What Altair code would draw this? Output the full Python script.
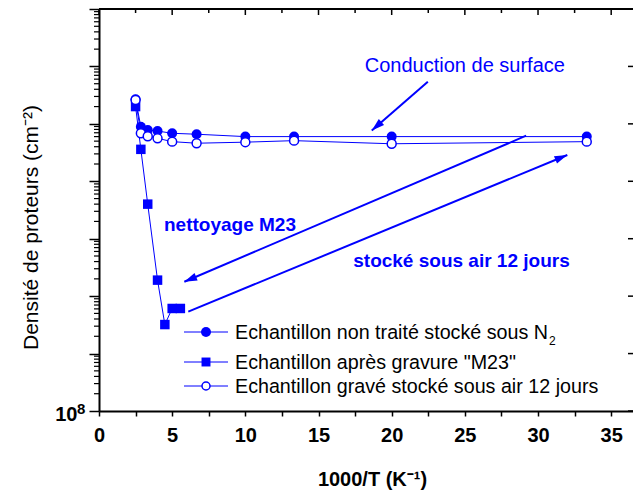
import altair as alt
import pandas as pd

# ---------------- data ----------------
inv_T = [2.5, 2.86, 3.33, 4.0, 5.0, 6.67, 10.0, 13.33, 20.0, 33.33]
n2_density = [2.67e13, 8.9e12, 7.8e12, 7.5e12, 6.85e12, 6.6e12, 6.0e12, 6.0e12, 6.0e12, 6.0e12]
air_density = [2.6e13, 6.85e12, 6.1e12, 5.6e12, 4.9e12, 4.6e12, 4.8e12, 5.1e12, 4.5e12, 4.9e12]
m23_inv_T = [2.5, 2.86, 3.33, 4.0, 4.5, 5.0, 5.56]
m23_density = [2.0e13, 3.6e12, 4.0e11, 1.9e10, 3.2e9, 6.1e9, 6.1e9]

legend_labels = [
    "Echantillon non traité stocké sous N",
    'Echantillon après gravure "M23"',
    "Echantillon gravé stocké sous air 12 jours",
]

x_major = [0, 5, 10, 15, 20, 25, 30, 35]
x_minor = [2.5, 7.5, 12.5, 17.5, 22.5, 27.5, 32.5]
y_major = [1e8, 1e9, 1e10, 1e11, 1e12, 1e13, 1e14, 1e15]
y_minor = [k * 10.0 ** e for e in range(8, 15) for k in range(2, 10)]

ann_text_regular = ["Conduction de surface"]
ann_x_regular = [25.0]
ann_y_regular = [7.9e13]
ann_text_bold = ["nettoyage M23", "stocké sous air 12 jours"]
ann_x_bold = [8.95, 24.77]
ann_y_bold = [1.38e11, 3.26e10]

arrow_x0 = [22.47, 29.19, 6.10]
arrow_y0 = [5.42e13, 6.22e12, 5.36e9]
arrow_x1 = [18.64, 5.83, 32.0]
arrow_y1 = [7.66e12, 1.78e10, 2.87e12]
arrow_angle = [228.9, 246.9, 67.5]

# ---------------- styling ----------------
BLUE = "#0000ff"
FONT = "Liberation Sans"
W, H = 534, 402

xs = alt.Scale(domain=[0, 36.49], nice=False, zero=False)
ys = alt.Scale(type="log", domain=[1e8, 1e15], nice=False)

df_n2 = pd.DataFrame({"x": inv_T, "y": n2_density})
df_air = pd.DataFrame({"x": inv_T, "y": air_density})
df_m23 = pd.DataFrame({"x": m23_inv_T, "y": m23_density})

x_axis = alt.Axis(
    values=sorted(x_major + x_minor),
    labelExpr="datum.value % 5 == 0 ? datum.label : ''",
    labelFont=FONT, labelFontSize=20, labelFontWeight="bold", labelColor="black",
    labelBaseline="alphabetic", labelPadding=25, labelFlush=False, labelOverlap=False,
    tickSize=5, tickWidth=1.5, tickColor="black",
    domainColor="black", domainWidth=2, grid=False,
    title="1000/T (K⁻¹)", titleFont=FONT, titleFontSize=20, titleFontWeight="bold",
    titleColor="black", titleX=273, titleY=74, titleBaseline="alphabetic", titleAlign="center",
)
y_axis = alt.Axis(
    values=y_major,
    labelExpr="datum.value == 100000000 ? '10' : ''",
    labelFont=FONT, labelFontSize=20, labelFontWeight="bold", labelColor="black",
    labelBaseline="alphabetic", labelOffset=9, labelPadding=12, labelFlush=False,
    labelOverlap=False,
    tickSize=10, tickWidth=1.5, tickColor="black",
    domainColor="black", domainWidth=2, grid=False,
    title="Densité de proteurs (cm⁻²)", titleFont=FONT, titleFontSize=21,
    titleFontWeight="normal", titleColor="black", titleAngle=270,
    titleX=-62, titleY=218, titleBaseline="alphabetic", titleAlign="center",
)


def X(field="x"):
    return alt.X(f"{field}:Q", scale=xs, axis=x_axis)


def Y(field="y"):
    return alt.Y(f"{field}:Q", scale=ys, axis=y_axis)


# ---------------- series ----------------
line_m23 = alt.Chart(df_m23).mark_line(color=BLUE, strokeWidth=1).encode(x=X(), y=Y())
pts_m23 = alt.Chart(df_m23).mark_point(shape="square", filled=True, size=90,
                                        color=BLUE, opacity=1).encode(x=X(), y=Y())
line_n2 = alt.Chart(df_n2).mark_line(color=BLUE, strokeWidth=1).encode(x=X(), y=Y())
pts_n2 = alt.Chart(df_n2).mark_point(shape="circle", filled=True, size=100,
                                      color=BLUE, opacity=1).encode(x=X(), y=Y())
line_air = alt.Chart(df_air).mark_line(color=BLUE, strokeWidth=1).encode(x=X(), y=Y())
pts_air = alt.Chart(df_air).mark_point(shape="circle", filled=True, size=80, fill="white",
                                        stroke=BLUE, strokeWidth=1.5, opacity=1).encode(x=X(), y=Y())

# ---------------- extra ticks / frame ----------------
dummy = pd.DataFrame({"a": [0]})
left_minor = alt.Chart(pd.DataFrame({"v": y_minor})).mark_rule(
    color="black", strokeWidth=1.2).encode(x=alt.value(-5), x2=alt.value(0), y=Y("v"))
top_major = alt.Chart(pd.DataFrame({"v": x_major})).mark_rule(
    color="black", strokeWidth=1.5).encode(x=X("v"), y=alt.value(0), y2=alt.value(6))
top_minor = alt.Chart(pd.DataFrame({"v": x_minor})).mark_rule(
    color="black", strokeWidth=1.5).encode(x=X("v"), y=alt.value(0), y2=alt.value(4))
right_major = alt.Chart(pd.DataFrame({"v": y_major})).mark_rule(
    color="black", strokeWidth=1.5).encode(x=alt.value(W - 5), x2=alt.value(W), y=Y("v"))
top_frame = alt.Chart(dummy).mark_rule(color="black", strokeWidth=2).encode(
    x=alt.value(0), x2=alt.value(W), y=alt.value(0))
# exponent of the "10^8" tick label
exp_label = alt.Chart(dummy).mark_text(
    font=FONT, fontSize=15, fontWeight="bold", color="black", align="left",
    baseline="alphabetic").encode(x=alt.value(-22), y=alt.value(H + 2.5), text=alt.value("8"))

# ---------------- annotations ----------------
df_arrows = pd.DataFrame({"x0": arrow_x0, "y0": arrow_y0, "x1": arrow_x1,
                          "y1": arrow_y1, "ang": arrow_angle})
arrow_lines = alt.Chart(df_arrows).mark_rule(color=BLUE, strokeWidth=2).encode(
    x=X("x0"), y=Y("y0"), x2="x1:Q", y2="y1:Q")
arrow_heads = alt.Chart(df_arrows).mark_point(
    shape="M0,0L-0.5,1.6L0.5,1.6Z", filled=True, size=256, color=BLUE, opacity=1
).encode(x=X("x1"), y=Y("y1"), angle=alt.Angle("ang:Q", scale=None))

txt_reg = alt.Chart(pd.DataFrame({"x": ann_x_regular, "y": ann_y_regular, "t": ann_text_regular})
                    ).mark_text(font=FONT, fontSize=20, color=BLUE, align="center",
                                baseline="alphabetic").encode(x=X(), y=Y(), text="t:N")
txt_bold = alt.Chart(pd.DataFrame({"x": ann_x_bold, "y": ann_y_bold, "t": ann_text_bold})
                     ).mark_text(font=FONT, fontSize=19, fontWeight="bold", color=BLUE,
                                 align="center", baseline="alphabetic").encode(x=X(), y=Y(), text="t:N")

# ---------------- legend (drawn by hand) ----------------
LEG_Y = [323, 353, 377]
legend_layers = []
for i, lab in enumerate(legend_labels):
    yy = LEG_Y[i]
    legend_layers.append(alt.Chart(dummy).mark_rule(color=BLUE, strokeWidth=1).encode(
        x=alt.value(85), x2=alt.value(129), y=alt.value(yy)))
    if i == 0:
        m = alt.Chart(dummy).mark_point(shape="circle", filled=True, size=100, color=BLUE, opacity=1)
    elif i == 1:
        m = alt.Chart(dummy).mark_point(shape="square", filled=True, size=80, color=BLUE, opacity=1)
    else:
        m = alt.Chart(dummy).mark_point(shape="circle", filled=True, size=64, fill="white",
                                        stroke=BLUE, strokeWidth=1.5, opacity=1)
    legend_layers.append(m.encode(x=alt.value(107), y=alt.value(yy)))
    legend_layers.append(alt.Chart(dummy).mark_text(
        font=FONT, fontSize=19.7, color="black", align="left", baseline="alphabetic"
    ).encode(x=alt.value(136), y=alt.value(yy + 6.6), text=alt.value(lab)))
legend_layers.append(alt.Chart(dummy).mark_text(
    font=FONT, fontSize=12, color="black", align="left", baseline="alphabetic"
).encode(x=alt.value(450), y=alt.value(336), text=alt.value("2")))

chart = alt.layer(
    line_m23, line_n2, line_air, pts_m23, pts_n2, pts_air,
    left_minor, top_major, top_minor, right_major, top_frame, exp_label,
    arrow_lines, arrow_heads, txt_reg, txt_bold,
    *legend_layers,
).properties(
    width=W, height=H,
    autosize=alt.AutoSizeParams(type="none"),
    padding={"left": 91, "top": 1, "right": 0, "bottom": 79},
    background="white",
).configure_view(stroke=None)

chart.save("out.html", embed_options={"renderer": "svg", "actions": False})
